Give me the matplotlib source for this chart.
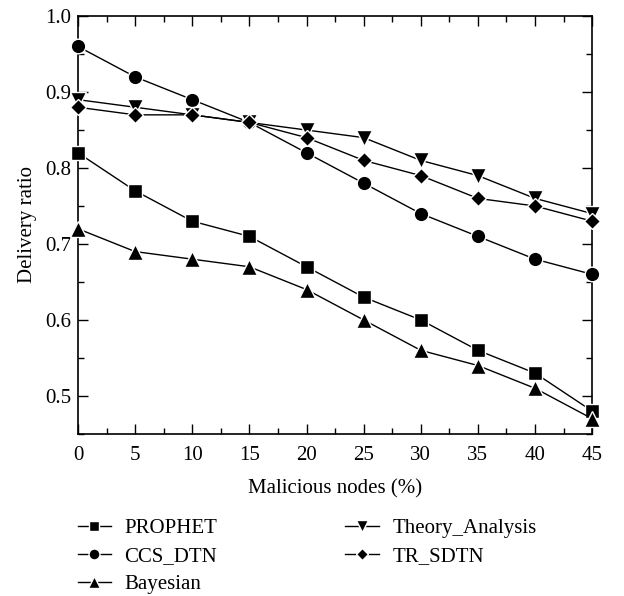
import matplotlib
matplotlib.use("Agg")
import matplotlib.pyplot as plt
from matplotlib.ticker import MultipleLocator

plt.rcParams['font.family'] = ['Liberation Serif', 'DejaVu Serif']

x = [0, 5, 10, 15, 20, 25, 30, 35, 40, 45]
prophet = [0.82, 0.77, 0.73, 0.71, 0.67, 0.63, 0.60, 0.56, 0.53, 0.48]
ccs_dtn = [0.96, 0.92, 0.89, 0.86, 0.82, 0.78, 0.74, 0.71, 0.68, 0.66]
bayesian = [0.72, 0.69, 0.68, 0.67, 0.64, 0.60, 0.56, 0.54, 0.51, 0.47]
theory = [0.89, 0.88, 0.87, 0.86, 0.85, 0.84, 0.81, 0.79, 0.76, 0.74]
tr_sdtn = [0.88, 0.87, 0.87, 0.86, 0.84, 0.81, 0.79, 0.76, 0.75, 0.73]

series = [("PROPHET", prophet, 's', 9.5),
          ("CCS_DTN", ccs_dtn, 'o', 10.5),
          ("Bayesian", bayesian, '^', 11),
          ("Theory_Analysis", theory, 'v', 11),
          ("TR_SDTN", tr_sdtn, 'D', 8.5)]

fig = plt.figure(figsize=(6.24, 5.96), dpi=100)
ax = fig.add_axes([0.125, 0.272, 0.824, 0.701])

handles = []
for name, y, m, ms in series:
    h, = ax.plot(x, y, color='black', lw=1.0, marker=m, markersize=ms,
                 markerfacecolor='black', markeredgecolor='white', markeredgewidth=1.0,
                 label=name, clip_on=False, zorder=3)
    handles.append(h)

ax.set_xlim(0, 45)
ax.set_ylim(0.45, 1.0)
ax.xaxis.set_major_locator(MultipleLocator(5))
ax.xaxis.set_minor_locator(MultipleLocator(2.5))
ax.yaxis.set_major_locator(MultipleLocator(0.1))
ax.yaxis.set_minor_locator(MultipleLocator(0.05))
ax.tick_params(which='both', direction='in', top=True, right=True, labelsize=15)
ax.tick_params(which='major', length=7, width=1)
ax.tick_params(which='minor', length=4, width=1)
ax.tick_params(axis='x', pad=9)
ax.tick_params(axis='y', pad=5)
ax.set_yticks([0.5, 0.6, 0.7, 0.8, 0.9, 1.0])
ax.set_yticklabels(["0.5", "0.6", "0.7", "0.8", "0.9", "1.0"])
for s in ax.spines.values():
    s.set_linewidth(1.2)

ax.set_xlabel("Malicious nodes (%)", fontsize=15, labelpad=10)
ax.set_ylabel("Delivery ratio", fontsize=15, labelpad=6)

leg = fig.legend(handles=handles, labels=[s[0] for s in series], loc='upper left',
                 bbox_to_anchor=(0.101, 0.154), ncol=2, frameon=False, fontsize=15,
                 handlelength=1.6, columnspacing=6.15, labelspacing=0.40,
                 markerscale=0.75, handletextpad=0.65, borderpad=0.2)
fig.savefig("out.png", dpi=100)
